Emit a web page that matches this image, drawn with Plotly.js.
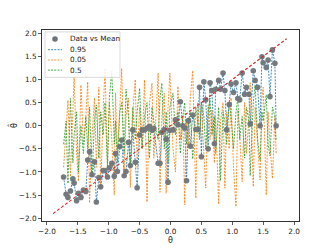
<!DOCTYPE html>
<html><head><meta charset="utf-8">
<script src="https://cdn.plot.ly/plotly-3.0.1.min.js"></script>
<style>html,body{margin:0;padding:0;background:#fff}#chart{width:332px;height:249px}</style>
</head><body><div id="chart"></div>
<script>
const theta = [-1.73,-1.69,-1.66,-1.62,-1.58,-1.56,-1.52,-1.49,-1.45,-1.41,-1.37,-1.34,-1.31,-1.27,-1.23,-1.20,-1.16,-1.13,-1.09,-1.06,-1.02,-0.99,-0.95,-0.91,-0.89,-0.86,-0.82,-0.79,-0.75,-0.72,-0.68,-0.65,-0.61,-0.57,-0.54,-0.50,-0.46,-0.42,-0.38,-0.34,-0.30,-0.27,-0.20,-0.17,-0.14,-0.10,-0.07,-0.04,-0.01,0.04,0.08,0.12,0.16,0.20,0.23,0.26,0.29,0.32,0.36,0.41,0.44,0.47,0.50,0.54,0.57,0.61,0.64,0.67,0.71,0.73,0.78,0.81,0.85,0.88,0.91,0.95,0.98,1.02,1.06,1.09,1.12,1.16,1.20,1.23,1.27,1.29,1.34,1.37,1.41,1.45,1.48,1.50,1.55,1.58,1.61,1.65,1.69,1.71];
const meanPred = [-1.11,-1.48,-1.55,-1.41,-1.15,-1.24,-1.62,-1.46,-1.55,-1.39,-1.42,-0.74,-0.56,-1.06,-0.78,-1.65,-1.12,-1.32,-0.97,-0.97,-1.11,-0.91,-0.81,-1.09,-0.60,-0.99,-0.45,-0.31,-1.08,-0.99,-0.36,-0.86,-0.09,-0.79,-1.34,-0.20,-0.09,-0.09,-0.05,-0.02,-0.10,-0.06,-0.81,-0.81,-0.14,-0.08,-0.29,-1.22,-0.10,-0.09,0.13,0.02,0.52,0.00,-0.05,-1.19,0.11,-0.44,0.23,-0.08,-0.08,0.83,-0.67,0.95,0.56,-0.50,0.93,0.76,-0.39,0.79,0.98,0.79,1.14,0.76,-0.09,0.46,0.90,0.72,0.93,0.59,0.56,1.14,0.68,0.83,0.68,0.04,1.19,0.98,0.83,0.00,1.49,1.36,1.26,1.42,0.63,1.64,1.35,0.00];
const q95 = [-1.11,-1.48,-1.55,-1.41,-1.15,-1.24,-1.62,-1.46,-1.55,-1.39,-1.42,-0.74,-0.56,-1.06,-0.78,-1.65,-1.12,-1.32,-0.97,-0.97,-1.11,-0.91,-0.81,-1.09,-0.60,-0.99,-0.45,-0.31,-1.08,-0.99,-0.36,-0.86,-0.09,-0.79,-1.34,-0.20,-0.09,-0.09,-0.05,-0.02,-0.10,-0.06,-0.81,-0.81,-0.14,-0.08,-0.29,-1.22,-0.10,-0.09,0.13,0.02,0.52,0.00,-0.05,-1.19,0.11,-0.44,0.23,-0.08,-0.08,0.83,-0.67,0.95,0.56,-0.50,0.93,0.76,-0.39,0.79,0.98,0.79,1.14,0.76,-0.09,0.46,0.90,0.72,0.93,0.59,0.56,1.14,0.68,0.83,0.68,0.04,1.19,0.98,0.83,0.00,1.49,1.36,1.26,1.42,0.63,1.64,1.35,0.00];
const q05 = [-0.9,0.1,0.55,-1.1,0.3,1.06,-0.6,-1.2,0.88,-0.4,0.2,0.95,-1.67,-0.2,0.6,-0.9,0.83,-1.37,0.3,1.24,-0.8,0.5,-0.3,-1.5,0.71,-0.6,0.4,1.24,-1.0,0.2,0.6,-1.33,0.3,1.0,-0.9,0.4,-0.5,0.99,-1.65,0.5,0.92,-0.7,1.14,-1.44,0.2,0.7,-1.46,0.4,1.14,-0.5,-1.0,0.85,-0.3,0.2,-1.71,0.1,-0.4,0.6,1.19,-1.57,0.5,-0.2,0.45,-0.6,-1.35,0.45,-0.3,0.34,-0.8,0.2,-1.70,0.1,0.5,-1.35,0.3,-0.5,0.6,-0.9,-1.75,0.34,-0.2,-1.21,0.5,-0.6,0.2,0.93,-1.32,0.4,-0.5,-1.17,0.6,0.83,-1.50,0.3,-0.4,-1.14,0.2,-0.6];
const q50 = [-0.4,0.1,-1.25,0.59,-0.8,-0.2,0.3,-1.0,0.0,-0.6,0.2,-0.5,0.4,-1.1,0.1,0.45,-0.7,0.3,-0.2,0.5,-0.9,0.6,1.19,-0.4,0.1,-0.8,0.3,0.5,-0.6,0.79,0.2,-0.9,0.4,-0.3,0.3,0.81,-0.5,0.2,0.5,-0.7,0.4,0.1,-0.3,0.6,0.92,-0.5,0.3,-0.8,0.4,0.7,-0.2,0.3,-0.6,0.2,0.5,-0.4,0.1,0.3,-0.72,0.4,0.1,-0.3,0.5,0.2,-0.5,0.3,0.6,-0.2,0.2,-0.6,0.4,-1.19,0.3,0.1,-0.4,0.5,0.2,-0.5,0.3,0.6,-0.3,0.2,-0.7,0.4,0.1,-1.08,0.5,0.88,-0.3,-0.75,0.3,0.1,0.67,-0.4,-0.65,0.4,0.2,-0.3];
const refLine = [-1.9, 1.88];
const xTicks = [-2.0,-1.5,-1.0,-0.5,0.0,0.5,1.0,1.5,2.0];
const yTicks = [-2.0,-1.5,-1.0,-0.5,0.0,0.5,1.0,1.5,2.0];
const legendLabels = ['Data vs Mean','0.95','0.05','0.5'];

const C_MEAN = '#6f7479', C95 = '#1f77b4', C05 = '#ff7f0e', C50 = '#2ca02c';
const lineDash = '2px,1.2px';
const traces = [
  {x: theta, y: q95, mode:'lines', name:'0.95', line:{color:C95, width:1, dash:lineDash}, opacity:0.85},
  {x: theta, y: q05, mode:'lines', name:'0.05', line:{color:C05, width:1, dash:lineDash}, opacity:0.85},
  {x: theta, y: q50, mode:'lines', name:'0.5', line:{color:C50, width:1, dash:lineDash}, opacity:0.85},
  {x: theta, y: meanPred, mode:'markers', name:'Data vs Mean', marker:{color:C_MEAN, size:5.6}, opacity:0.95},
  {x: refLine, y: refLine, mode:'lines', line:{color:'#d62728', width:1.1, dash:'3px,2px'}}
];

// compact legend (matplotlib style) drawn with shapes + annotations
const lgRows = [0.953, 0.897, 0.843, 0.790];
const lgColors = [C_MEAN, C95, C05, C50];
const shapes = [{type:'rect', xref:'paper', yref:'paper', x0:0.0117, x1:0.3035, y0:0.752, y1:0.99,
  line:{color:'#d0d0d0', width:0.8}, fillcolor:'rgba(255,255,255,0.85)', layer:'above'}];
const annotations = [];
legendLabels.forEach((lab, i) => {
  if (i === 0) {
    shapes.push({type:'circle', xref:'paper', yref:'paper', xsizemode:'pixel', ysizemode:'pixel',
      xanchor:0.0506, yanchor:lgRows[i], x0:-2.8, x1:2.8, y0:-2.8, y1:2.8,
      fillcolor:lgColors[i], line:{width:0}, layer:'above'});
  } else {
    shapes.push({type:'line', xref:'paper', yref:'paper', x0:0.023, x1:0.078, y0:lgRows[i], y1:lgRows[i],
      line:{color:lgColors[i], width:1, dash:lineDash}, opacity:0.85, layer:'above'});
  }
  annotations.push({xref:'paper', yref:'paper', x:0.101, y:lgRows[i], xanchor:'left', yanchor:'middle',
    text:lab, showarrow:false, font:{family:'DejaVu Sans', size:7.3, color:'#222'}});
});

const axisCommon = {
  showgrid:false, zeroline:false, showline:true, mirror:true, linecolor:'#333', linewidth:1,
  ticks:'outside', ticklen:3, tickwidth:0.8, tickcolor:'#333', tickformat:'.1f',
  tickfont:{family:'DejaVu Sans', size:7.3, color:'#222'}, tickmode:'array'
};
const layout = {
  width:332, height:249, margin:{l:42, r:33, t:30, b:28},
  paper_bgcolor:'#fff', plot_bgcolor:'#fff', showlegend:false,
  xaxis: Object.assign({}, axisCommon, {range:[-2.08,2.08], tickvals:xTicks,
    title:{text:'θ', font:{family:'DejaVu Sans', size:8, color:'#222'}, standoff:2}}),
  yaxis: Object.assign({}, axisCommon, {range:[-2.06,2.07], tickvals:yTicks,
    title:{text:'θ̂', font:{family:'DejaVu Sans', size:8, color:'#222'}, standoff:0}}),
  shapes: shapes, annotations: annotations
};
Plotly.newPlot('chart', traces, layout, {displayModeBar:false, staticPlot:true});
</script></body></html>
